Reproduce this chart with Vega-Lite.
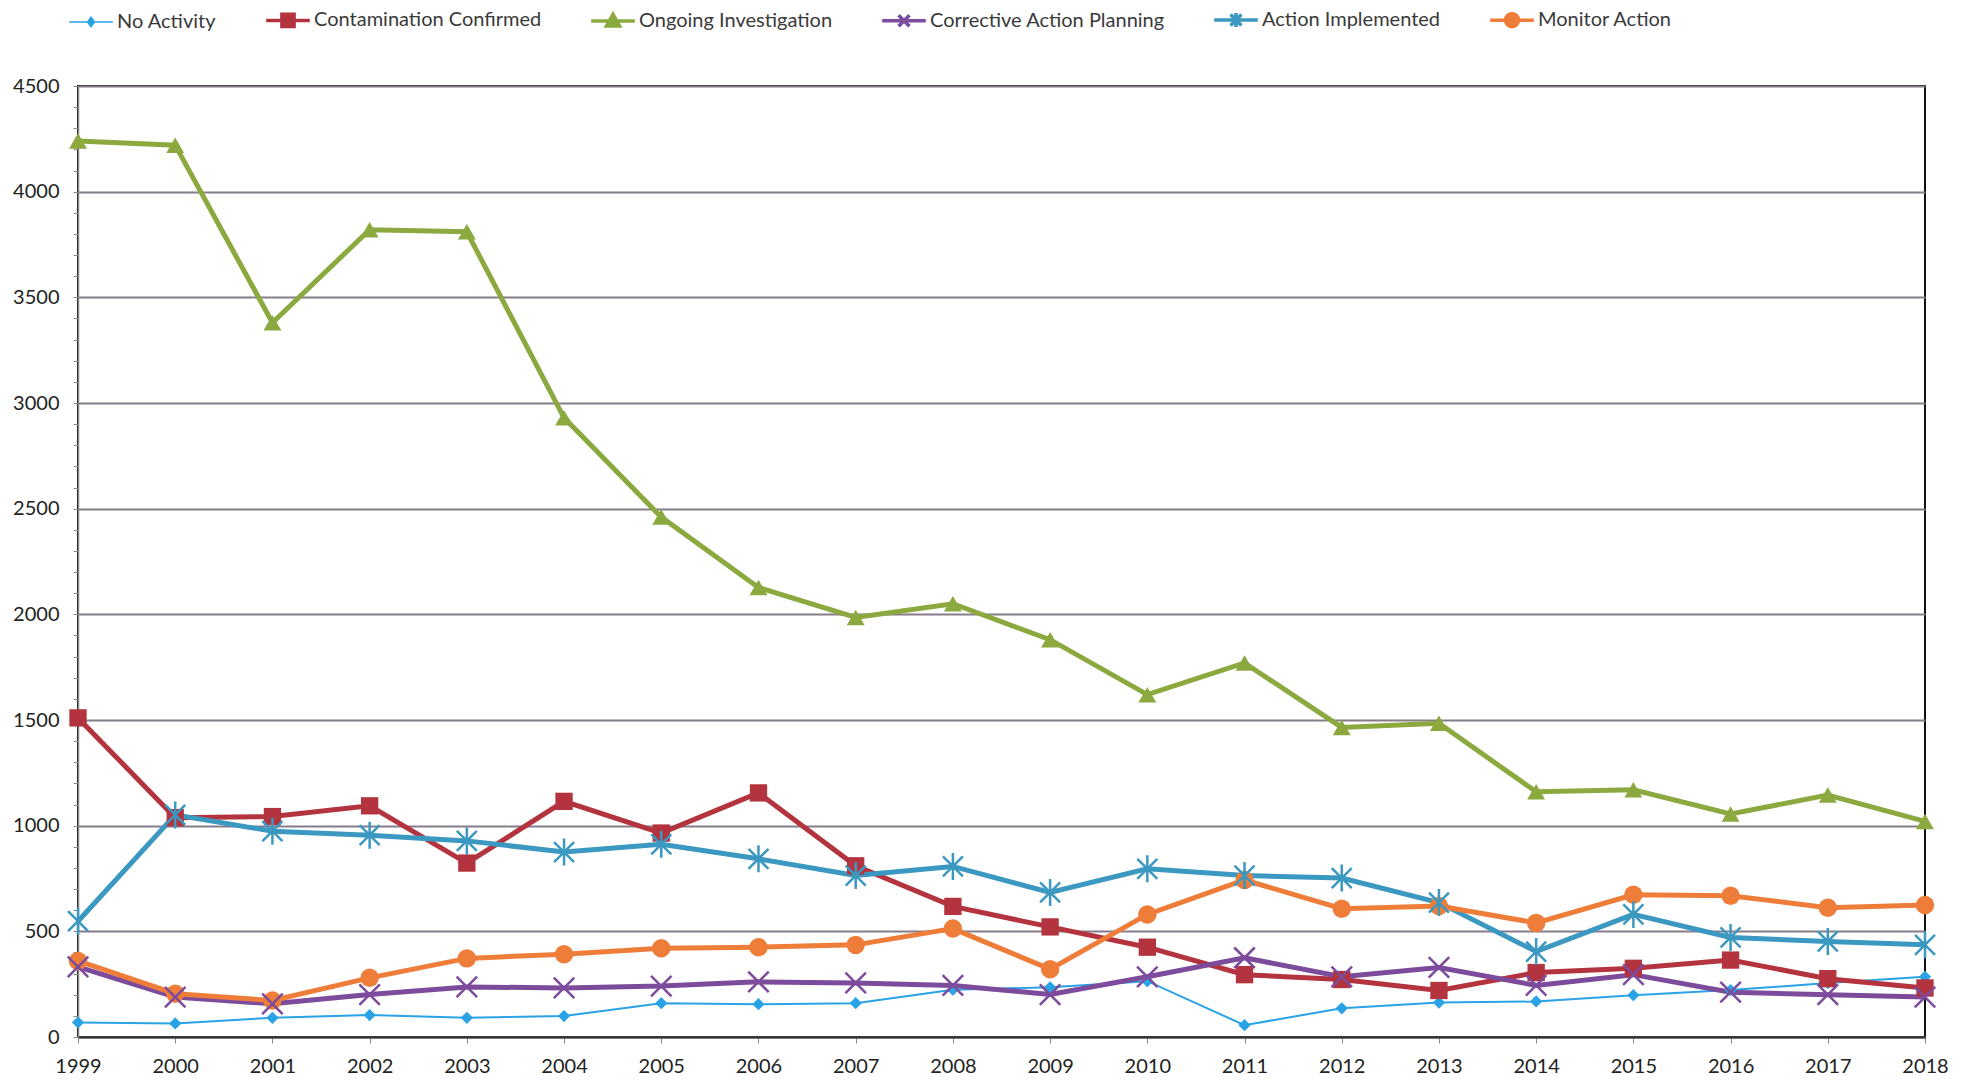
{
  "$schema": "https://vega.github.io/schema/vega-lite/v6.json",
  "autosize": {"type": "none"},
  "width": 1847,
  "height": 951,
  "padding": {"left": 78, "top": 86, "right": 49, "bottom": 47},
  "background": "white",
  "config": {
    "font": "Lato, sans-serif",
    "view": {"stroke": "#111", "strokeWidth": 2}
  },
  "data": {"values": [
    {"year":"1999","series":"No Activity","value":69},{"year":"2000","series":"No Activity","value":64},{"year":"2001","series":"No Activity","value":91},{"year":"2002","series":"No Activity","value":104},{"year":"2003","series":"No Activity","value":91},{"year":"2004","series":"No Activity","value":99},{"year":"2005","series":"No Activity","value":160},{"year":"2006","series":"No Activity","value":155},{"year":"2007","series":"No Activity","value":160},{"year":"2008","series":"No Activity","value":224},{"year":"2009","series":"No Activity","value":235},{"year":"2010","series":"No Activity","value":264},{"year":"2011","series":"No Activity","value":56},{"year":"2012","series":"No Activity","value":136},{"year":"2013","series":"No Activity","value":163},{"year":"2014","series":"No Activity","value":168},{"year":"2015","series":"No Activity","value":198},{"year":"2016","series":"No Activity","value":222},{"year":"2017","series":"No Activity","value":255},{"year":"2018","series":"No Activity","value":285},
    {"year":"1999","series":"Contamination Confirmed","value":1510},{"year":"2000","series":"Contamination Confirmed","value":1038},{"year":"2001","series":"Contamination Confirmed","value":1043},{"year":"2002","series":"Contamination Confirmed","value":1094},{"year":"2003","series":"Contamination Confirmed","value":823},{"year":"2004","series":"Contamination Confirmed","value":1115},{"year":"2005","series":"Contamination Confirmed","value":965},{"year":"2006","series":"Contamination Confirmed","value":1155},{"year":"2007","series":"Contamination Confirmed","value":810},{"year":"2008","series":"Contamination Confirmed","value":618},{"year":"2009","series":"Contamination Confirmed","value":521},{"year":"2010","series":"Contamination Confirmed","value":425},{"year":"2011","series":"Contamination Confirmed","value":295},{"year":"2012","series":"Contamination Confirmed","value":272},{"year":"2013","series":"Contamination Confirmed","value":220},{"year":"2014","series":"Contamination Confirmed","value":305},{"year":"2015","series":"Contamination Confirmed","value":325},{"year":"2016","series":"Contamination Confirmed","value":364},{"year":"2017","series":"Contamination Confirmed","value":276},{"year":"2018","series":"Contamination Confirmed","value":232},
    {"year":"1999","series":"Ongoing Investigation","value":4240},{"year":"2000","series":"Ongoing Investigation","value":4220},{"year":"2001","series":"Ongoing Investigation","value":3380},{"year":"2002","series":"Ongoing Investigation","value":3820},{"year":"2003","series":"Ongoing Investigation","value":3810},{"year":"2004","series":"Ongoing Investigation","value":2930},{"year":"2005","series":"Ongoing Investigation","value":2460},{"year":"2006","series":"Ongoing Investigation","value":2127},{"year":"2007","series":"Ongoing Investigation","value":1985},{"year":"2008","series":"Ongoing Investigation","value":2050},{"year":"2009","series":"Ongoing Investigation","value":1880},{"year":"2010","series":"Ongoing Investigation","value":1620},{"year":"2011","series":"Ongoing Investigation","value":1770},{"year":"2012","series":"Ongoing Investigation","value":1465},{"year":"2013","series":"Ongoing Investigation","value":1485},{"year":"2014","series":"Ongoing Investigation","value":1160},{"year":"2015","series":"Ongoing Investigation","value":1170},{"year":"2016","series":"Ongoing Investigation","value":1055},{"year":"2017","series":"Ongoing Investigation","value":1145},{"year":"2018","series":"Ongoing Investigation","value":1020},
    {"year":"1999","series":"Corrective Action Planning","value":332},{"year":"2000","series":"Corrective Action Planning","value":189},{"year":"2001","series":"Corrective Action Planning","value":157},{"year":"2002","series":"Corrective Action Planning","value":201},{"year":"2003","series":"Corrective Action Planning","value":237},{"year":"2004","series":"Corrective Action Planning","value":232},{"year":"2005","series":"Corrective Action Planning","value":241},{"year":"2006","series":"Corrective Action Planning","value":261},{"year":"2007","series":"Corrective Action Planning","value":256},{"year":"2008","series":"Corrective Action Planning","value":244},{"year":"2009","series":"Corrective Action Planning","value":201},{"year":"2010","series":"Corrective Action Planning","value":285},{"year":"2011","series":"Corrective Action Planning","value":375},{"year":"2012","series":"Corrective Action Planning","value":285},{"year":"2013","series":"Corrective Action Planning","value":329},{"year":"2014","series":"Corrective Action Planning","value":244},{"year":"2015","series":"Corrective Action Planning","value":295},{"year":"2016","series":"Corrective Action Planning","value":212},{"year":"2017","series":"Corrective Action Planning","value":200},{"year":"2018","series":"Corrective Action Planning","value":189},
    {"year":"1999","series":"Action Implemented","value":548},{"year":"2000","series":"Action Implemented","value":1051},{"year":"2001","series":"Action Implemented","value":974},{"year":"2002","series":"Action Implemented","value":955},{"year":"2003","series":"Action Implemented","value":928},{"year":"2004","series":"Action Implemented","value":875},{"year":"2005","series":"Action Implemented","value":912},{"year":"2006","series":"Action Implemented","value":843},{"year":"2007","series":"Action Implemented","value":764},{"year":"2008","series":"Action Implemented","value":807},{"year":"2009","series":"Action Implemented","value":684},{"year":"2010","series":"Action Implemented","value":796},{"year":"2011","series":"Action Implemented","value":764},{"year":"2012","series":"Action Implemented","value":752},{"year":"2013","series":"Action Implemented","value":636},{"year":"2014","series":"Action Implemented","value":404},{"year":"2015","series":"Action Implemented","value":580},{"year":"2016","series":"Action Implemented","value":471},{"year":"2017","series":"Action Implemented","value":452},{"year":"2018","series":"Action Implemented","value":436},
    {"year":"1999","series":"Monitor Action","value":360},{"year":"2000","series":"Monitor Action","value":205},{"year":"2001","series":"Monitor Action","value":173},{"year":"2002","series":"Monitor Action","value":280},{"year":"2003","series":"Monitor Action","value":372},{"year":"2004","series":"Monitor Action","value":392},{"year":"2005","series":"Monitor Action","value":420},{"year":"2006","series":"Monitor Action","value":425},{"year":"2007","series":"Monitor Action","value":436},{"year":"2008","series":"Monitor Action","value":513},{"year":"2009","series":"Monitor Action","value":321},{"year":"2010","series":"Monitor Action","value":580},{"year":"2011","series":"Monitor Action","value":743},{"year":"2012","series":"Monitor Action","value":607},{"year":"2013","series":"Monitor Action","value":620},{"year":"2014","series":"Monitor Action","value":540},{"year":"2015","series":"Monitor Action","value":673},{"year":"2016","series":"Monitor Action","value":668},{"year":"2017","series":"Monitor Action","value":612},{"year":"2018","series":"Monitor Action","value":625}
  ]},
  "encoding": {
    "x": {"field": "year", "type": "ordinal", "scale": {"type": "point", "padding": 0},
      "axis": {"title": null, "labelAngle": 0, "labelFontSize": 20, "labelColor": "#222", "tickColor": "#888", "tickSize": 6, "labelPadding": 13, "domainColor": "#333", "domainWidth": 2, "grid": false}},
    "y": {"field": "value", "type": "quantitative", "scale": {"domain": [0, 4500], "nice": false},
      "axis": {"title": null, "values": [0,100,200,300,400,500,600,700,800,900,1000,1100,1200,1300,1400,1500,1600,1700,1800,1900,2000,2100,2200,2300,2400,2500,2600,2700,2800,2900,3000,3100,3200,3300,3400,3500,3600,3700,3800,3900,4000,4100,4200,4300,4400,4500],
        "labelExpr": "datum.value % 500 === 0 ? datum.label : ''", "format": "d", "labelOverlap": false,
        "labelFontSize": 20, "labelColor": "#222", "labelPadding": 14, "tickSize": 5, "tickColor": "#888", "domainColor": "#888", "domainWidth": 1.5,
        "grid": true, "gridColor": "#857d8a", "gridWidth": 2,
        "gridOpacity": {"condition": {"test": "datum.value % 500 === 0", "value": 1}, "value": 0}}},
    "color": {"field": "series", "type": "nominal",
      "scale": {"domain": ["No Activity","Contamination Confirmed","Ongoing Investigation","Corrective Action Planning","Action Implemented","Monitor Action"],
                "range": ["#2AA2E6","#B3343F","#8BA93F","#7D4B9C","#3B98C0","#EF7D3A"]},
      "legend": {"title": null, "orient": "none", "legendX": -9, "legendY": -76, "direction": "horizontal", "padding": 0,
        "labelFontSize": 20, "labelColor": "#3a3a3a", "labelOffset": 4, "labelLimit": 500, "columnPadding": 42,
        "symbolSize": 1900,
        "encode": {
          "symbols": {"update": {
            "shape": {"signal": "datum.value === 'No Activity' ? 'M-1,0H1M0,-0.22L0.16,0L0,0.22L-0.16,0Z' : datum.value === 'Contamination Confirmed' ? 'M-1,0H1M-0.28,-0.28H0.28V0.28H-0.28Z' : datum.value === 'Ongoing Investigation' ? 'M-1,0H1M0,-0.3L0.3,0.24L-0.3,0.24Z' : datum.value === 'Corrective Action Planning' ? 'M-1,0H1M-0.25,-0.25L0.25,0.25M0.25,-0.25L-0.25,0.25' : datum.value === 'Action Implemented' ? 'M-1,0H1M-0.25,-0.25L0.25,0.25M0.25,-0.25L-0.25,0.25M0,-0.32L0,0.32' : 'M-1,0H1M-0.3,0A0.3,0.3 0 1,0 0.3,0A0.3,0.3 0 1,0 -0.3,0Z'"},
            "size": {"value": 1900},
            "x": {"value": 22},
            "fill": {"signal": "scale('color', datum.value)"},
            "stroke": {"signal": "scale('color', datum.value)"},
            "strokeWidth": {"signal": "datum.value === 'No Activity' ? 1.5 : 3.5"},
            "opacity": {"value": 1}
          }},
          "labels": {"update": {"x": {"value": 48}}}
        }}}
  },
  "layer": [
    {
      "mark": {"type": "line"},
      "encoding": {
        "strokeWidth": {"condition": {"test": "datum.series === 'No Activity'", "value": 2}, "value": 5}
      }
    },
    {
      "transform": [{"filter": {"field": "series", "oneOf": ["No Activity","Contamination Confirmed","Ongoing Investigation","Monitor Action"]}}],
      "mark": {"type": "point", "filled": true, "opacity": 1},
      "encoding": {
        "shape": {"condition": [
          {"test": "datum.series === 'No Activity'", "value": "diamond"},
          {"test": "datum.series === 'Contamination Confirmed'", "value": "square"},
          {"test": "datum.series === 'Ongoing Investigation'", "value": "triangle-up"}
        ], "value": "circle"},
        "size": {"condition": [
          {"test": "datum.series === 'No Activity'", "value": 150},
          {"test": "datum.series === 'Contamination Confirmed'", "value": 300},
          {"test": "datum.series === 'Ongoing Investigation'", "value": 320}
        ], "value": 340}
      }
    },
    {
      "transform": [{"filter": {"field": "series", "oneOf": ["Corrective Action Planning","Action Implemented"]}}],
      "mark": {"type": "point", "filled": false, "opacity": 1, "strokeWidth": 2.5},
      "encoding": {
        "shape": {"condition": [
          {"test": "datum.series === 'Corrective Action Planning'", "value": "M-1,-1L1,1M1,-1L-1,1"}
        ], "value": "M-1,-1L1,1M1,-1L-1,1M0,-1.35L0,1.35"},
        "size": {"condition": [
          {"test": "datum.series === 'Corrective Action Planning'", "value": 420}
        ], "value": 400}
      }
    }
  ]
}
